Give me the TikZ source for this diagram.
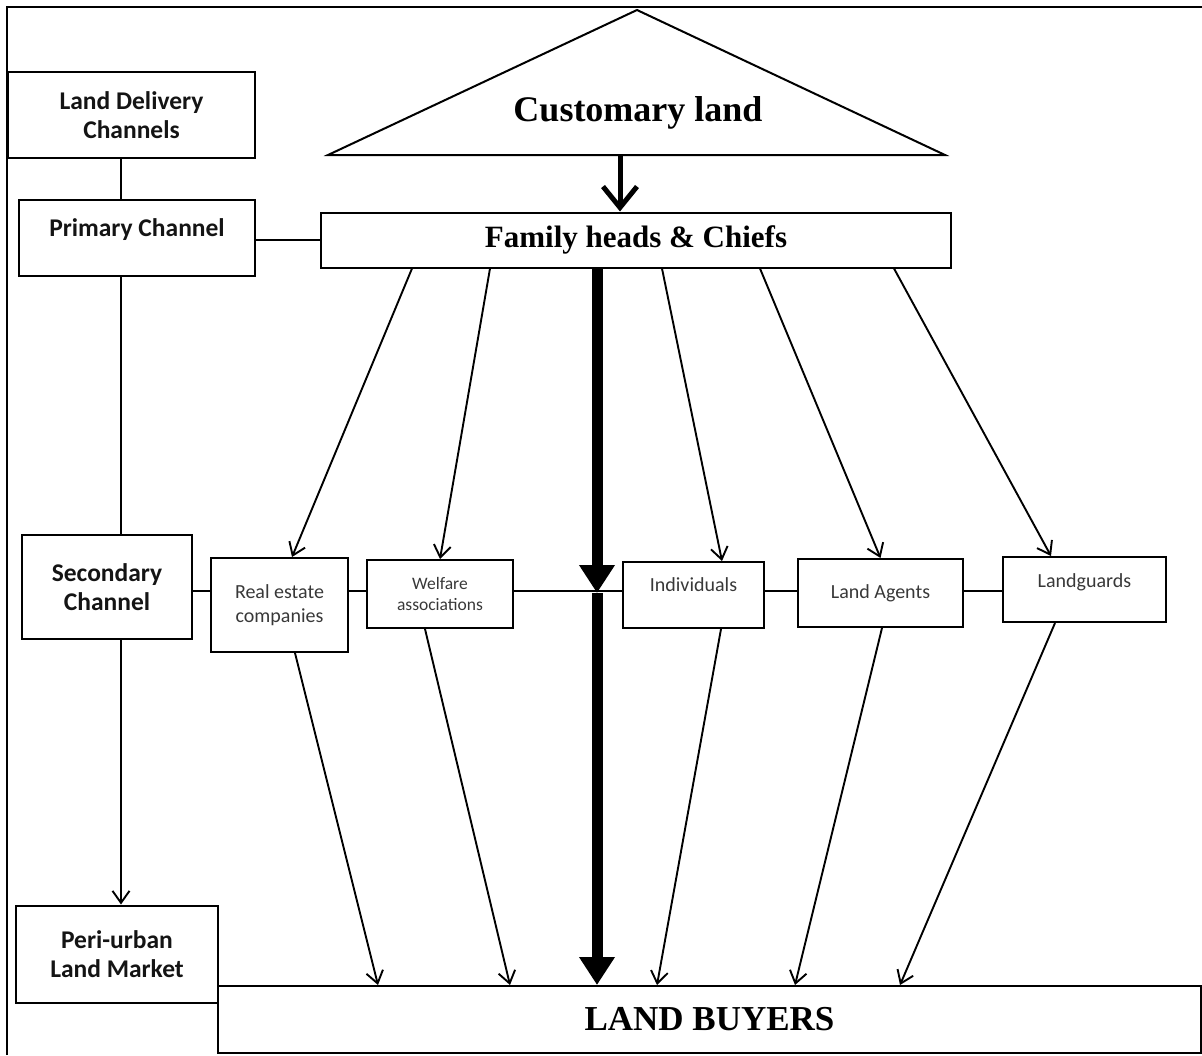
\documentclass[tikz,border=0pt]{standalone}
\usepackage{fontspec}
\setmainfont{Liberation Serif}
\newfontfamily\calfont{Carlito}
\usetikzlibrary{arrows.meta}
\begin{document}
\begin{tikzpicture}[x=1pt,y=-1pt,
  box/.style={draw, line width=2pt, inner sep=0pt, rectangle},
  headtext/.style={font=\calfont\bfseries\fontsize{25.5}{29}\selectfont, align=center, text=black!92},
  agenttext/.style={font=\calfont\fontsize{20}{24}\selectfont, align=center, text=black!78},
  welftext/.style={font=\calfont\fontsize{17.5}{21}\selectfont, align=center, text=black!78},
  serifbig/.style={font=\bfseries\fontsize{36}{40}\selectfont},
  link/.style={line width=2pt},
  flow/.style={line width=1.9pt, -{Straight Barb[length=12pt,width=17pt]}},
  boldflow/.style={line width=5pt, -{Straight Barb[length=21pt,width=34pt]}},
  trunk/.style={line width=11pt, -{Triangle[length=28pt,width=34pt]}},
]
\useasboundingbox (0,0) rectangle (1202,1055);

% outer frame
\draw[line width=2.4pt] (7,1055) -- (7,7) -- (1202,7);

% customary land triangle
\coordinate (apex) at (637,10);
\coordinate (tl) at (328,155);
\coordinate (tr) at (945,155);
\draw[line width=2pt, line join=miter] (tl) -- (apex) -- (tr) -- cycle;
\node[serifbig] (cust) at (638,113) {Customary land};
\coordinate (tb) at (620,155);

% left column of channels
\node[box, minimum width=247pt, minimum height=86pt, headtext] (ldc) at (131.5,115) {Land Delivery\\Channels};
\node[box, minimum width=236pt, minimum height=76pt,
      label={[headtext, yshift=8pt]center:Primary Channel}] (pc) at (137,238) {};
\node[box, minimum width=170pt, minimum height=104pt, headtext] (sc) at (107,587) {Secondary\\Channel};
\node[box, minimum width=202pt, minimum height=97pt, headtext] (pe) at (117,954) {Peri-urban\\Land Market};

% main boxes
\node[box, minimum width=630pt, minimum height=55pt, font=\bfseries\fontsize{31}{36}\selectfont] (fam) at (636,240) {Family heads \& Chiefs};
\node[box, minimum width=983pt, minimum height=67pt, font=\bfseries\fontsize{35}{40}\selectfont] (buyers) at (709.5,1019.5) {LAND BUYERS};

% secondary agents
\node[box, minimum width=137pt, minimum height=94pt, agenttext] (real) at (279.5,605) {Real estate\\companies};
\node[box, minimum width=146pt, minimum height=68pt, welftext] (wel) at (440,594) {Welfare\\associations};
\node[box, minimum width=141pt, minimum height=66pt,
      label={[agenttext, yshift=10pt]center:Individuals}] (ind) at (693.5,595) {};
\node[box, minimum width=165pt, minimum height=68pt, agenttext] (agt) at (880.5,593) {Land Agents};
\node[box, minimum width=163pt, minimum height=65pt,
      label={[agenttext, yshift=7.5pt]center:Landguards}] (lg) at (1084.5,589.5) {};

% channel spine
\coordinate (spine) at (121,0);
\coordinate (row) at (0,591);
\draw[link] (ldc.south -| spine) -- (pc.north -| spine);
\draw[link] (pc.south -| spine) -- (sc.north -| spine);
\draw[flow] (sc.south -| spine) -- (pe.north -| spine);
\draw[link] (pc.east |- fam.west) -- (fam.west);

% horizontal row through the agents
\draw[link] (sc.east |- row) -- (real.west |- row);
\draw[link] (real.east |- row) -- (wel.west |- row);
\draw[link] (wel.east |- row) -- (ind.west |- row);
\draw[link] (ind.east |- row) -- (agt.west |- row);
\draw[link] (agt.east |- row) -- (lg.west |- row);

% customary land to family heads
\draw[boldflow] (tb) -- (tb |- fam.north);

% direct trunk to buyers
\coordinate (tk) at (597,593);
\draw[trunk] (fam.south -| tk) -- (tk);
\draw[trunk] (tk) -- (buyers.north -| tk);

% family heads to agents
\draw[flow] ([xshift=-224pt]fam.south) -- ([xshift=12.5pt]real.north);
\draw[flow] ([xshift=-146pt]fam.south) -- (wel.north);
\draw[flow] ([xshift=26pt]fam.south) -- ([xshift=28.5pt]ind.north);
\draw[flow] ([xshift=124pt]fam.south) -- (agt.north);
\draw[flow] ([xshift=258pt]fam.south) -- ([xshift=-33.5pt]lg.north);

% agents to land buyers
\draw[flow] ([xshift=15.5pt]real.south) -- ([xshift=-331.5pt]buyers.north);
\draw[flow] ([xshift=-15pt]wel.south) -- ([xshift=-199.5pt]buyers.north);
\draw[flow] ([xshift=27.5pt]ind.south) -- ([xshift=-52.5pt]buyers.north);
\draw[flow] ([xshift=1.5pt]agt.south) -- ([xshift=85.5pt]buyers.north);
\draw[flow] ([xshift=-29.5pt]lg.south) -- ([xshift=190.5pt]buyers.north);
\end{tikzpicture}
\end{document}
